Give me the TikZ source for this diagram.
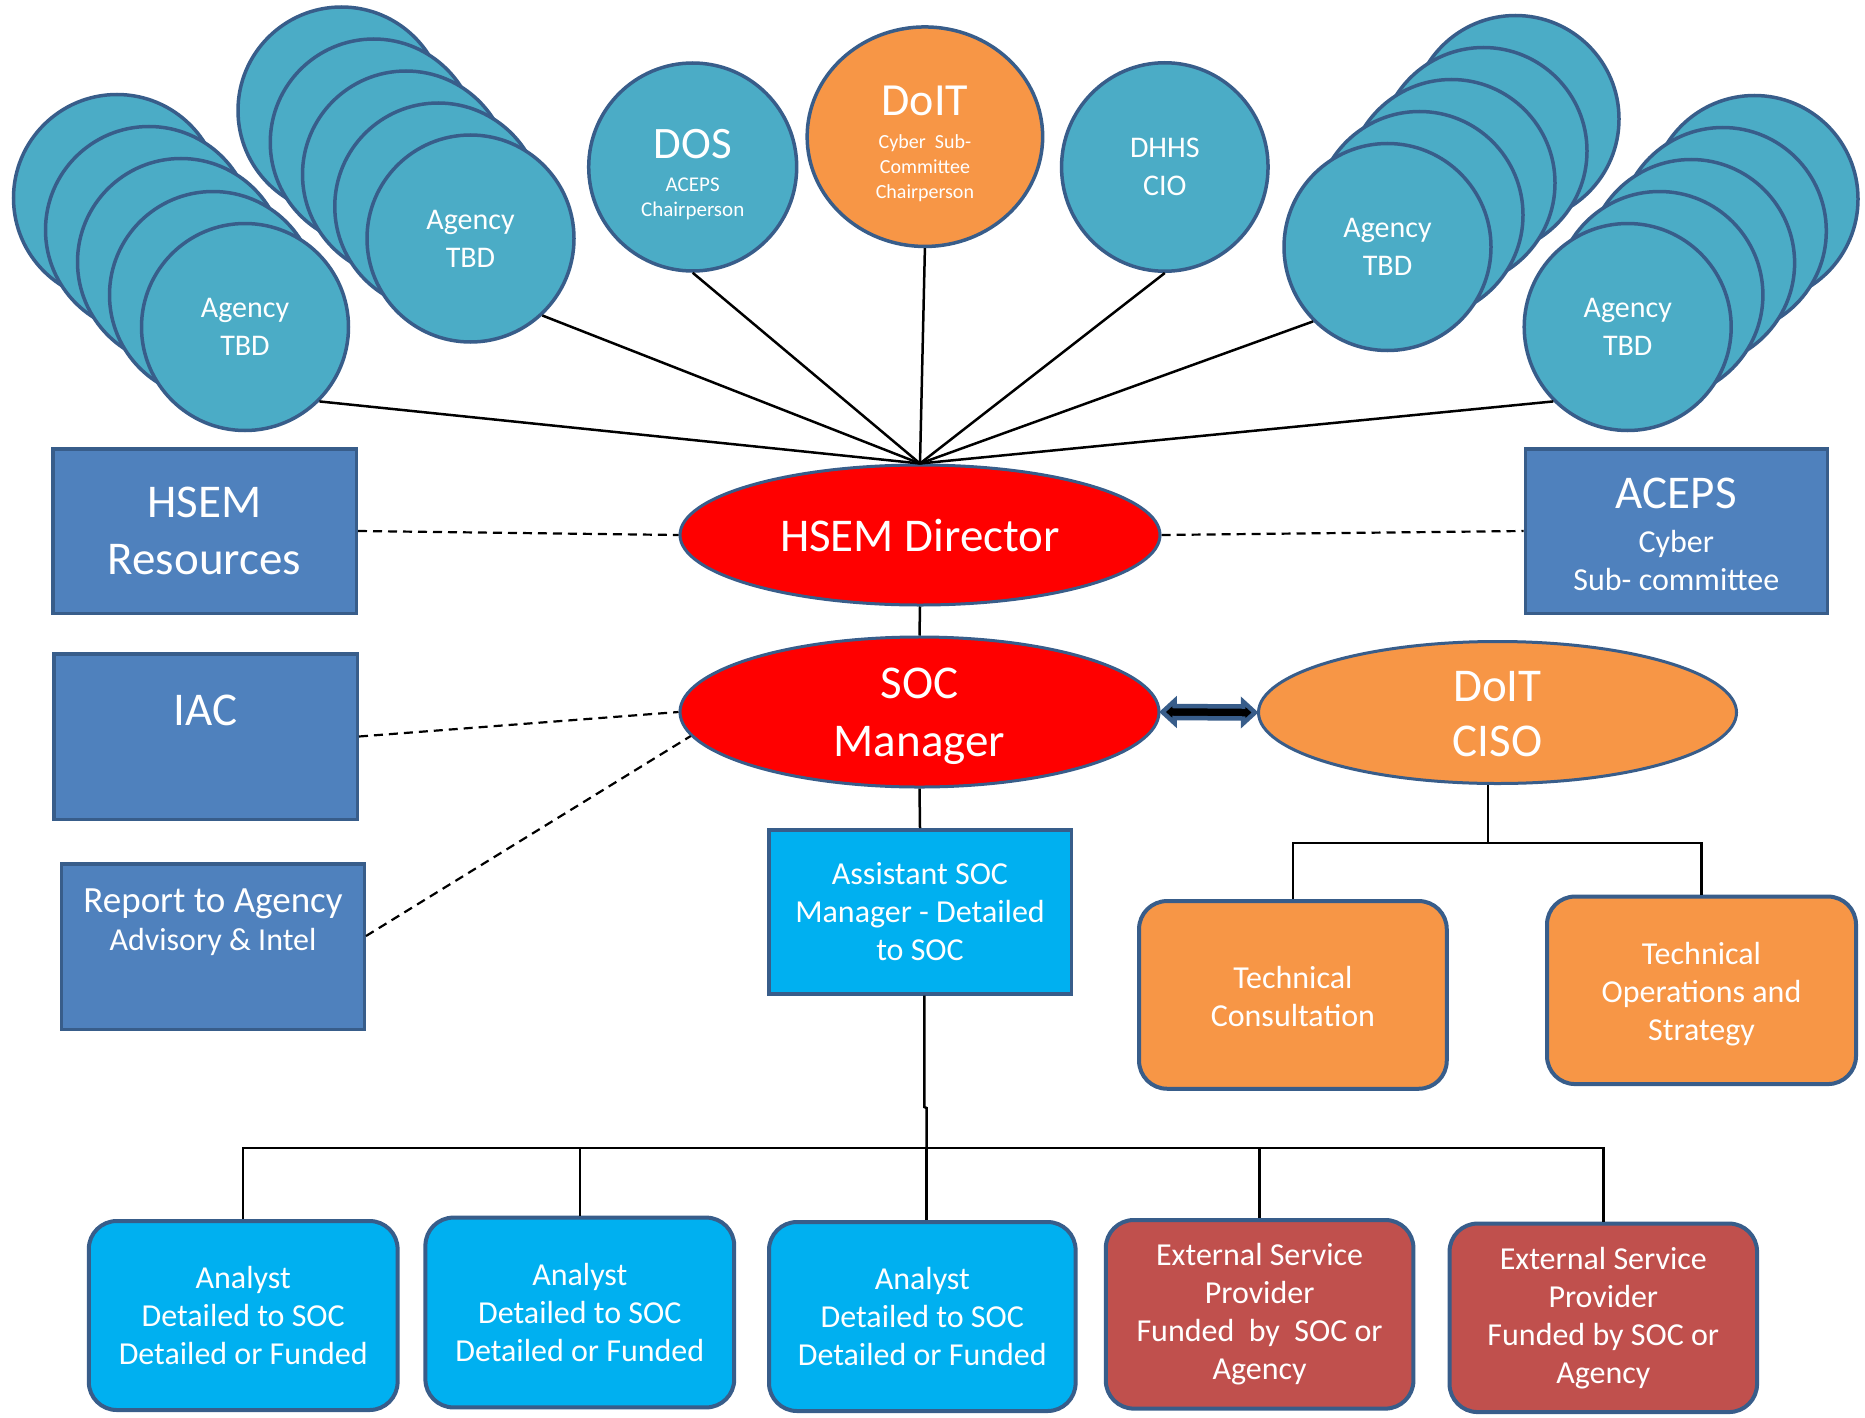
\documentclass[tikz,border=0pt]{standalone}
\usepackage{fontspec}
\setmainfont{Carlito}
\usetikzlibrary{shapes.geometric,calc}
\definecolor{cteal}{HTML}{4BACC6}
\definecolor{cborder}{HTML}{385D8A}
\definecolor{corange}{HTML}{F79646}
\definecolor{cbox}{HTML}{4F81BD}
\definecolor{ccyan}{HTML}{00B0F0}
\definecolor{cbrick}{HTML}{C0504D}
\definecolor{cred}{HTML}{FF0000}
\begin{document}
\begin{tikzpicture}[x=1pt,y=-1pt,
  agency/.style={circle, draw=cborder, line width=3.5pt, fill=cteal, minimum size=207pt, inner sep=0pt, text=white, align=center, font=\fontsize{30}{38}\selectfont},
  topcirc/.style={ellipse, draw=cborder, line width=3.5pt, fill=cteal, inner sep=0pt, text=white, align=center},
  redell/.style={ellipse, draw=cborder, line width=3pt, fill=cred, inner sep=0pt, text=white, align=center, font=\fontsize{47}{58}\selectfont},
  bluebox/.style={rectangle, draw=cborder, line width=3.5pt, fill=cbox, inner sep=0pt, text=white, align=center},
  rbox/.style={rectangle, rounded corners=28pt, draw=cborder, line width=4pt, inner sep=0pt, text=white, align=center, font=\fontsize{32}{38}\selectfont},
  txt/.style={text=white, inner sep=0pt, align=center},
  conn/.style={line width=2.5pt, black},
  dconn/.style={line width=2.2pt, black, dash pattern=on 9pt off 6pt},
  darrow/.style={draw=cborder, line width=4.5pt, fill=black, line join=miter}
]
\useasboundingbox (0,0) rectangle (1865,1418);
\fill[white] (0,0) rectangle (1865,1418);

% ---- stack A (front bottom-right)
\node[agency] (sa1) at (117,198) {};
\node[agency] (sa2) at (149,230) {};
\node[agency] (sa3) at (181,262) {};
\node[agency] (sa4) at (213,295) {};
\node[agency] (sa5) at (245,327) {Agency\\TBD};
% ---- stack B
\node[agency] (sb1) at (341.5,110.5) {};
\node[agency] (sb2) at (373.75,142.5) {};
\node[agency] (sb3) at (406,174.5) {};
\node[agency] (sb4) at (438.25,206.5) {};
\node[agency] (sb5) at (470.5,238.5) {Agency\\TBD};
% ---- stack C (front bottom-left)
\node[agency] (sc1) at (1515.5,119) {};
\node[agency] (sc2) at (1483.5,151) {};
\node[agency] (sc3) at (1451.5,183) {};
\node[agency] (sc4) at (1419.5,215) {};
\node[agency] (sc5) at (1387.5,247) {Agency\\TBD};
% ---- stack D
\node[agency] (sd1) at (1754.5,199) {};
\node[agency] (sd2) at (1722.8,231) {};
\node[agency] (sd3) at (1691.1,263) {};
\node[agency] (sd4) at (1659.4,295) {};
\node[agency] (sd5) at (1627.7,327) {Agency\\TBD};

% ---- top single circles
\node[topcirc, minimum width=208pt, minimum height=208pt, font=\fontsize{21}{25}\selectfont] (dos) at (692.7,167)
  {{\fontsize{45}{50}\selectfont\rule{0pt}{44pt}DOS}\\[8pt]ACEPS\\Chairperson};
\node[topcirc, fill=corange, minimum width=235.5pt, minimum height=219.5pt, font=\fontsize{20}{25}\selectfont] (doit) at (924.9,136.7)
  {{\fontsize{46}{50}\selectfont\rule{0pt}{44pt}DoIT}\\[8pt]Cyber\ \ Sub-\\Committee\\Chairperson};
\node[topcirc, minimum width=206.5pt, minimum height=208.5pt, font=\fontsize{30}{38}\selectfont] (dhhs) at (1164.8,167)
  {DHHS\\CIO};

% ---- central ellipses
\node[redell, minimum width=480pt, minimum height=140pt, font=\fontsize{47}{56}\selectfont] (hsem) at (920,535) {HSEM Director};
\node[redell, minimum width=479pt, minimum height=143pt] (soc) at (919.5,712) {\rule{0pt}{40pt}SOC\\Manager};
\node[redell, fill=corange, minimum width=478pt, minimum height=142pt, font=\fontsize{47}{55}\selectfont] (ciso) at (1497.5,712.5) {\rule{0pt}{33pt}DoIT\\CISO};

% ---- side boxes
\node[bluebox, minimum width=303.5pt, minimum height=164.5pt, font=\fontsize{47}{57}\selectfont] (hsemres) at (204.5,531) {HSEM\\Resources};
\node[bluebox, minimum width=303.5pt, minimum height=165.5pt] (iac) at (205.5,736.5) {};
\node[txt, anchor=base, font=\fontsize{47}{57}\selectfont] (iactxt) at (205.5,725) {IAC};
\node[bluebox, minimum width=303pt, minimum height=165.5pt] (report) at (212.75,946.5) {};
\node[txt, anchor=base, font=\fontsize{37}{44}\selectfont] (reptxt1) at (213,912) {Report to Agency};
\node[txt, anchor=base, font=\fontsize{32}{38}\selectfont] (reptxt2) at (213,950) {Advisory \& Intel};
\node[bluebox, minimum width=302pt, minimum height=164.5pt, font=\fontsize{32}{38}\selectfont] (aceps) at (1676.3,531)
  {{\fontsize{47}{50}\selectfont\rule{0pt}{38pt}ACEPS}\\[6pt]Cyber\\Sub- committee};

% ---- assistant
\node[bluebox, fill=ccyan, minimum width=302.5pt, minimum height=164pt, font=\fontsize{32}{38}\selectfont] (asst) at (920,911.75)
  {Assistant SOC\\Manager - Detailed\\to SOC};

% ---- CISO children
\node[rbox, fill=corange, minimum width=307.7pt, minimum height=187.7pt] (tc) at (1292.9,994.9) {\rule{0pt}{26pt}Technical\\Consultation};
\node[rbox, fill=corange, minimum width=309pt, minimum height=187.5pt] (tops) at (1701.5,990.3) {\rule{0pt}{30pt}Technical\\Operations and\\Strategy};

% ---- bottom row
\node[rbox, fill=ccyan, minimum width=308.8pt, minimum height=189pt] (a1) at (243.2,1315.5) {Analyst\\Detailed to SOC\\Detailed or Funded};
\node[rbox, fill=ccyan, minimum width=308.8pt, minimum height=189.8pt] (a2) at (579.8,1312.5) {Analyst\\Detailed to SOC\\Detailed or Funded};
\node[rbox, fill=ccyan, minimum width=306.6pt, minimum height=189pt] (a3) at (922.3,1316.5) {Analyst\\Detailed to SOC\\Detailed or Funded};
\node[rbox, fill=cbrick, minimum width=307.6pt, minimum height=188.6pt] (e1) at (1259.6,1314.3) {External Service\\Provider\\Funded\ \ by\ \ SOC or\\Agency};
\node[rbox, fill=cbrick, minimum width=307.5pt, minimum height=188.5pt] (e2) at (1603.3,1317.8) {External Service\\Provider\\Funded by SOC or\\Agency};

% ---- fan connectors
\draw[conn] (sa5.-45) -- (hsem.north);
\draw[conn] (sb5.-47) -- (hsem.north);
\draw[conn] (dos.south) -- (hsem.north);
\draw[conn] (doit.south) -- (hsem.north);
\draw[conn] (dhhs.south) -- (hsem.north);
\draw[conn] (sc5.225) -- (hsem.north);
\draw[conn] (sd5.225) -- (hsem.north);

% ---- vertical chain
\draw[conn] (hsem.south) -- (soc.north);
\draw[conn] (soc.south) -- (asst.north);

% ---- dashed links
\draw[dconn] (hsemres.east) -- (hsem.west);
\draw[dconn] (hsem.east) -- (aceps.west);
\draw[dconn] (iac.east) -- (soc.west);
\draw[dconn] ([yshift=10.5pt]report.east) -- (soc.186);

% ---- double block arrow
\draw[darrow] ($(soc.east)+(2,0)$) -- ($(soc.east)+(14,-11)$) -- ($(soc.east)+(14,-6)$)
  -- ($(ciso.west)+(-14,-6)$) -- ($(ciso.west)+(-14,-11)$) -- ($(ciso.west)+(-2,0)$)
  -- ($(ciso.west)+(-14,11)$) -- ($(ciso.west)+(-14,6)$)
  -- ($(soc.east)+(14,6)$) -- ($(soc.east)+(14,11)$) -- cycle;

% ---- CISO tree
\coordinate (cj) at (1488,843);
\draw[conn] (ciso.south -| cj) -- (cj);
\draw[conn] (tc.north) |- (cj) -| (tops.north);

% ---- bottom bus
\coordinate (bus) at (926.5,1148);
\coordinate (jogtop) at (924.3,1107);
\coordinate (jogbot) at (926.5,1108);
\draw[conn] (asst.south -| jogtop) -- (jogtop) -- (jogbot) -- (bus);
\draw[conn] (a1.north) |- (bus) -| (e2.north);
\draw[conn] (a2.north) -- (a2.north |- bus);
\draw[conn] (a3.north -| bus) -- (bus);
\draw[conn] (e1.north) -- (e1.north |- bus);
\end{tikzpicture}
\end{document}
